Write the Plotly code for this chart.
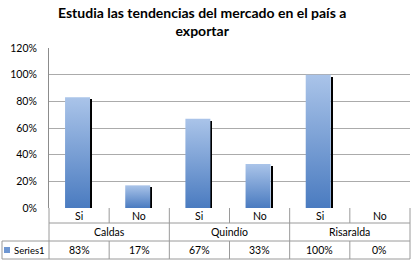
import plotly.graph_objects as go

title_text = "Estudia las tendencias del mercado en el país a<br>exportar"
groups = ["Caldas", "Quindío", "Risaralda"]
answers = ["Si", "No", "Si", "No", "Si", "No"]
values = [83, 17, 67, 33, 100, 0]
series_name = "Series1"
y_ticks = [0, 20, 40, 60, 80, 100, 120]
y_tick_text = [f"{t}%" for t in y_ticks]

W, H = 413, 261
ML, MR, MT, MB = 49, 3, 48, 53
PW = W - ML - MR
PH = H - MT - MB

def py(p):  # pixel y -> paper y
    return (H - MB - p) / PH

def px(p):  # pixel x -> paper x
    return (p - ML) / PW

FONT = "Lato"
fig = go.Figure()

bar_left, bar_right = -0.233, 0.182
for i, v in enumerate(values):
    if v <= 0:
        continue
    fig.add_trace(go.Scatter(
        x=[i + bar_left, i + bar_right, i + bar_right, i + bar_left, i + bar_left],
        y=[0, 0, v, v, 0],
        mode="lines", line=dict(width=0), fill="toself",
        fillgradient=dict(type="vertical",
                          colorscale=[[0, "#4a7bc0"], [1, "#aac4e9"]],
                          start=0, stop=v),
        hoverinfo="skip", showlegend=False))

# shadows
fig.add_trace(go.Bar(
    x=[i + bar_right + 0.017 for i in range(len(values))], y=values, base=-1.5,
    width=0.034, marker=dict(color="#000000", line=dict(width=0)),
    showlegend=False, hoverinfo="skip"))

shapes = []
line_c = "#9a9a9a"
def hline(x0, x1, yp, xref="paper"):
    shapes.append(dict(type="line", xref=xref, yref="paper", x0=x0, x1=x1,
                       y0=py(yp), y1=py(yp), line=dict(color=line_c, width=1)))
def vline(x, y0p, y1p, xref="x"):
    shapes.append(dict(type="line", xref=xref, yref="paper", x0=x, x1=x,
                       y0=py(y0p), y1=py(y1p), line=dict(color=line_c, width=1)))

hline(0, 1, 223)
hline(px(2), 1, 241)
hline(px(2), 1, 259)
vline(0, 208, 259, xref="paper")
vline(1, 208, 259, xref="paper")
vline(px(2), 241, 259, xref="paper")
for i in range(len(values) - 1):
    b = i + 0.5
    if i % 2 == 1:
        vline(b, 208, 259)
    else:
        vline(b, 208, 223)
        vline(b, 241, 259)

annotations = []
tf = dict(family=FONT, size=10.5, color="#000000")
for i, a in enumerate(answers):
    annotations.append(dict(x=i, y=py(215.5), xref="x", yref="paper", text=a,
                            showarrow=False, font=tf, xanchor="center", yanchor="middle"))
    annotations.append(dict(x=i, y=py(250), xref="x", yref="paper",
                            text=f"{values[i]}%", showarrow=False, font=tf,
                            xanchor="center", yanchor="middle"))
for g, name in enumerate(groups):
    annotations.append(dict(x=2 * g + 0.5, y=py(232), xref="x", yref="paper",
                            text=name, showarrow=False, font=tf,
                            xanchor="center", yanchor="middle"))
annotations.append(dict(x=px(12), y=py(250), xref="paper", yref="paper",
                        text=series_name, showarrow=False, xanchor="left",
                        yanchor="middle", font=dict(family=FONT, size=9.5, color="#000000")))
annotations.append(dict(x=px(202), y=py(21), xref="paper", yref="paper",
                        text="<b>" + title_text + "</b>", showarrow=False,
                        xanchor="center", yanchor="middle",
                        font=dict(family=FONT, size=14, color="#000000")))
shapes.append(dict(type="rect", xref="paper", yref="paper", x0=px(4), x1=px(10),
                   y0=py(253), y1=py(247), fillcolor="#6f97d2", line=dict(width=0)))

fig.update_layout(
    width=W, height=H,
    margin=dict(l=ML, r=MR, t=MT, b=MB, autoexpand=False),
    paper_bgcolor="white", plot_bgcolor="white",
    xaxis=dict(range=[-0.5, 5.5], showticklabels=False, showgrid=False,
               zeroline=False, showline=False, fixedrange=True, automargin=False),
    yaxis=dict(range=[0, 120], tickmode="array", tickvals=y_ticks, ticktext=y_tick_text,
               showgrid=True, gridcolor="#ababab", gridwidth=1, zeroline=False,
               showline=True, linecolor="#8c8c8c", linewidth=1, automargin=False,
               tickfont=dict(family=FONT, size=10.5, color="#000000"),
               ticks="", ticklen=0, ticklabelstandoff=9),
    shapes=shapes, annotations=annotations, showlegend=False,
    bargap=0, barmode="overlay",
)
fig.write_html("out.html", config={"displayModeBar": False},
               post_script="document.body.style.margin='0px';")
